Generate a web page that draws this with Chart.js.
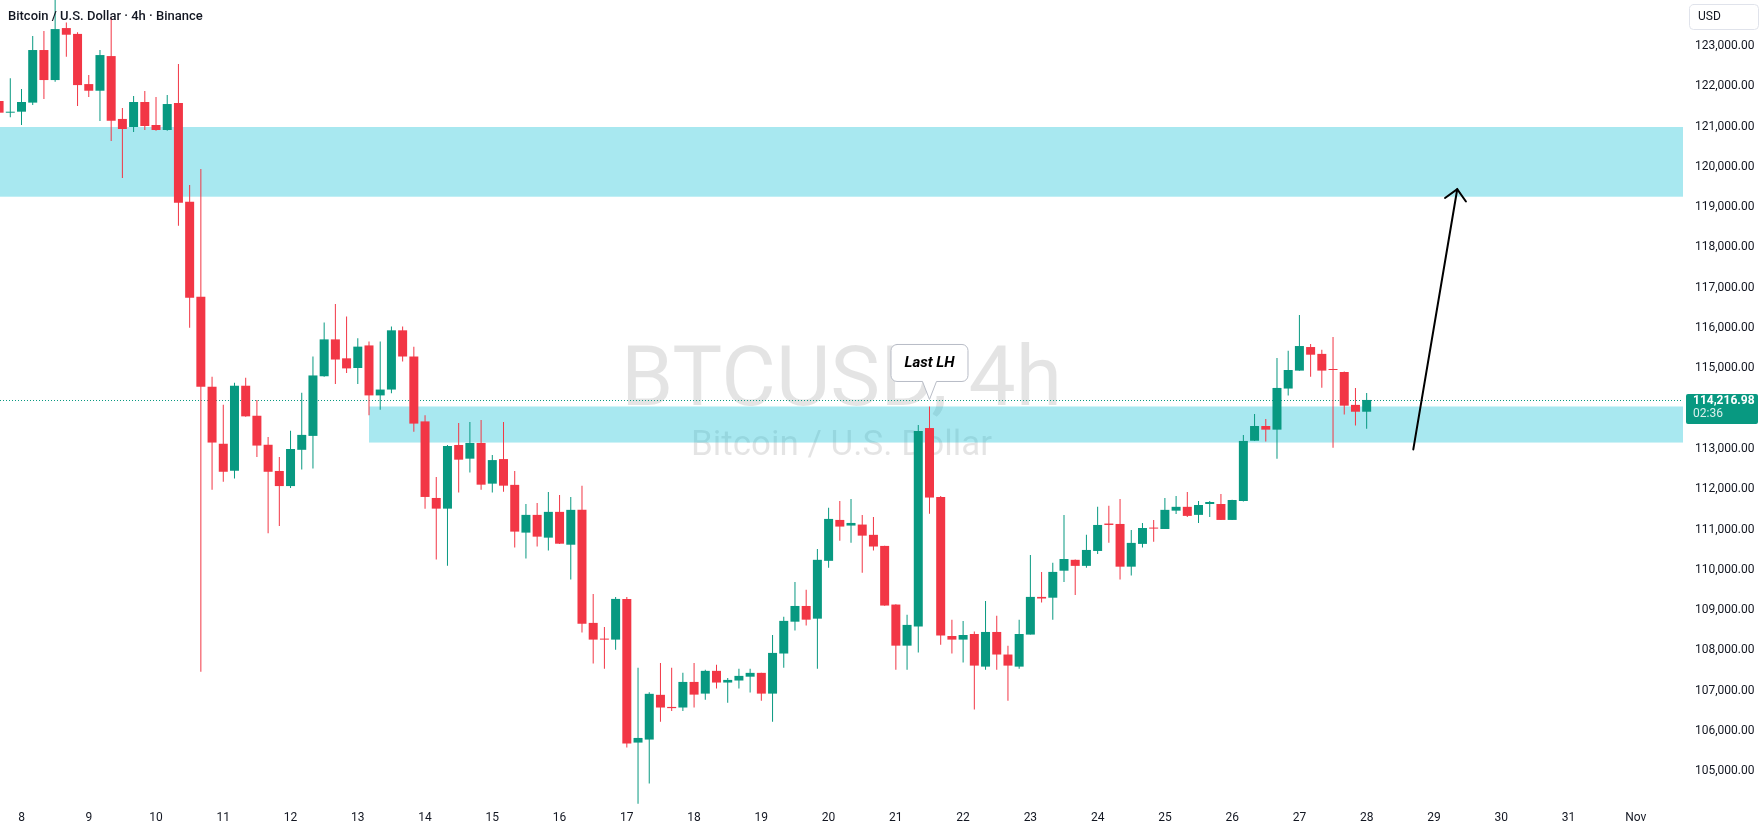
<!DOCTYPE html>
<html>
<head>
<meta charset="utf-8">
<script src="https://cdn.jsdelivr.net/npm/chart.js@4.4.1/dist/chart.umd.min.js"></script>
<style>
html,body{margin:0;padding:0;background:#ffffff;}
#wrap{width:1760px;height:833px;position:relative;}
</style>
</head>
<body>
<div id="wrap"><canvas id="c"></canvas></div>
<script>
// ---- DATA: BTCUSD 4h candles (first = 2 bars before the 8th, 00:00) ----
const firstBar = -2;
const opens = [
121635,121345,121370,121595,122900,122155,123445,123300,122055,121890,
122750,121190,120990,121610,121040,120915,121585,119135,116780,114545,
113130,112460,114570,113825,113105,112455,112080,112980,113325,114805,
115720,115250,115010,115570,114330,114475,115945,115295,113685,111785,
111520,113100,112760,113150,112140,112750,112110,110925,111365,110800,
111440,110625,111490,108685,108290,108270,109280,105715,105790,106900,
106600,106585,107220,106930,107495,107205,107255,107350,107445,106930,
107925,108715,109105,108790,110225,111240,111100,111125,110870,110595,
109140,108120,108595,113520,111810,108360,108270,108410,107600,108460,
107900,107600,108395,109330,109310,109980,110250,110100,110470,111150,
111140,110080,110645,111050,111015,111470,111565,111365,111635,111635,
111240,111710,113205,113570,113480,114500,114945,115530,115360,114980,
114910,114095,113925];
const highs = [
121700,122200,121930,123250,123370,124400,123580,123340,122280,122900,
123700,121460,121760,121885,121735,121785,122555,119550,119950,114795,
114100,114645,114770,114215,113300,112800,113450,114395,115295,116140,
116595,116290,115750,115670,115670,116040,116040,115540,113835,112305,
113100,113645,113670,113720,112850,113670,112455,111635,111660,111935,
111860,111810,112085,109405,108585,109330,109330,107575,106965,107690,
107570,107445,107690,107520,107645,107320,107545,107545,107450,108385,
108835,109700,109505,110520,111540,111710,111760,111365,111315,110600,
109150,108890,113595,114055,111835,108760,108735,108470,109230,108860,
108120,108760,110370,109950,110175,111365,110260,110870,111565,111590,
111760,110990,111165,111240,111785,111835,111935,111710,111710,111885,
111740,113350,113870,113745,115260,115435,116325,115605,115460,115780,
114920,114515,114390];
const lows = [
121300,121230,121040,121535,121685,122115,122735,121510,121735,121140,
120645,119725,120865,120915,120900,120900,118540,116010,107475,111990,
112185,112265,113800,112800,110910,111090,112035,112490,112515,114790,
114610,114885,114610,113835,113975,114385,115170,113425,111520,110255,
110105,111920,112415,111990,111920,111940,110555,110280,110580,110480,
110640,109760,108445,107675,107550,108020,105590,104200,104700,106235,
106500,106500,106585,106780,107055,106705,107055,106955,106755,106235,
107575,108495,108620,107550,110055,110725,110675,109930,110480,109110,
107525,107525,107950,111395,108145,107925,107700,106535,107525,107525,
106755,107550,108395,109190,108760,109700,109380,110055,110395,110675,
109760,109860,110555,110700,111015,111390,111315,111165,111315,111240,
111240,111700,113200,113185,112760,114325,114940,114790,114520,113030,
113855,113580,113505];
const closes = [
121345,121360,121610,122900,122155,123420,123280,122030,121890,122775,
121145,120940,121610,121015,120915,121560,119110,116755,114545,113160,
112435,114570,113810,113085,112435,112080,113000,113350,114825,115720,
115220,115000,115540,114330,114475,115945,115295,113630,111810,111520,
113075,112735,113150,112115,112725,112090,110950,111365,110825,111440,
110650,111490,108665,108270,108270,109280,105690,105830,106925,106585,
106570,107220,106905,107495,107205,107270,107370,107445,106930,107940,
108735,109105,108765,110250,111265,111075,111165,110850,110580,109115,
108120,108635,113445,111795,108370,108270,108385,107625,108460,107900,
107625,108410,109330,109290,109950,110270,110100,110495,111115,111115,
110080,110670,111040,111025,111490,111565,111340,111610,111685,111240,
111735,113200,113570,113480,114515,114960,115555,115340,114945,114960,
114075,113925,114216.98];

const dayLabels = ['8','9','10','11','12','13','14','15','16','17','18','19','20','21','22','23','24','25','26','27','28','29','30','31','Nov'];
const barsPerDay = 6;
const priceTicks = [123000,122000,121000,120000,119000,118000,117000,116000,115000,113000,112000,111000,110000,109000,108000,107000,106000,105000];

const zoneTops = [120990, 114055];
const zoneBottoms = [119260, 113160];
const zoneStarts = [null, 31];

const arrowFrom = [124.16, 112990];
const arrowTo = [128.08, 119445];
const calloutText = 'Last LH';
const calloutBar = 81;
const lastPrice = 114216.98;
const countdown = '02:36';
const chartTitle = 'Bitcoin / U.S. Dollar · 4h · Binance';
const watermarkMain = 'BTCUSD, 4h';
const watermarkSub = 'Bitcoin / U.S. Dollar';
const currency = 'USD';

const UP = '#089981', DOWN = '#F23645';

// ---- build datasets ----
const wickData = [], bodyData = [], colors = [];
for (let i = 0; i < opens.length; i++) {
  const k = firstBar + i;
  wickData.push({x: k, y: [lows[i], highs[i]]});
  bodyData.push({x: k, y: [opens[i], closes[i]]});
  colors.push(closes[i] >= opens[i] ? UP : DOWN);
}

const fmt = v => v.toLocaleString('en-US', {minimumFractionDigits: 2, maximumFractionDigits: 2});

function roundRect(ctx, x, y, w, h, r) {
  ctx.beginPath();
  ctx.moveTo(x + r, y);
  ctx.lineTo(x + w - r, y);
  ctx.arcTo(x + w, y, x + w, y + r, r);
  ctx.lineTo(x + w, y + h - r);
  ctx.arcTo(x + w, y + h, x + w - r, y + h, r);
  ctx.lineTo(x + r, y + h);
  ctx.arcTo(x, y + h, x, y + h - r, r);
  ctx.lineTo(x, y + r);
  ctx.arcTo(x, y, x + r, y, r);
  ctx.closePath();
}

const overlay = {
  id: 'overlay',
  beforeDatasetsDraw(chart) {
    const {ctx, chartArea: a, scales: {x, y}} = chart;
    ctx.save();
    ctx.beginPath(); ctx.rect(a.left, a.top, a.right - a.left, a.bottom - a.top); ctx.clip();
    // watermark
    const cx = (a.left + a.right) / 2, cy = (a.top + a.bottom) / 2;
    ctx.fillStyle = 'rgba(0,0,0,0.105)';
    ctx.textAlign = 'center'; ctx.textBaseline = 'alphabetic';
    ctx.font = '84px Roboto, "Liberation Sans", sans-serif';
    ctx.fillText(watermarkMain, cx, cy + 2);
    ctx.font = '35px Roboto, "Liberation Sans", sans-serif';
    ctx.fillText(watermarkSub, cx, cy + 52);
    // zones
    ctx.fillStyle = 'rgba(0,188,212,0.34)';
    for (let i = 0; i < zoneTops.length; i++) {
      const x0 = zoneStarts[i] === null ? a.left : x.getPixelForValue(zoneStarts[i]);
      const y0 = y.getPixelForValue(zoneTops[i]);
      const y1 = y.getPixelForValue(zoneBottoms[i]);
      ctx.fillRect(x0, y0, a.right - x0, y1 - y0);
    }
    // last price dotted line
    const py = Math.round(y.getPixelForValue(lastPrice)) + 0.5;
    ctx.strokeStyle = UP; ctx.lineWidth = 1; ctx.setLineDash([1, 2]);
    ctx.beginPath(); ctx.moveTo(a.left, py); ctx.lineTo(a.right, py); ctx.stroke();
    ctx.restore();
  },
  afterDatasetsDraw(chart) {
    const {ctx, chartArea: a, scales: {x, y}} = chart;
    ctx.save();
    // arrow
    const x0 = x.getPixelForValue(arrowFrom[0]), y0 = y.getPixelForValue(arrowFrom[1]);
    const x1 = x.getPixelForValue(arrowTo[0]), y1 = y.getPixelForValue(arrowTo[1]);
    ctx.strokeStyle = '#000000'; ctx.lineWidth = 2; ctx.lineCap = 'round';
    ctx.beginPath(); ctx.moveTo(x0, y0); ctx.lineTo(x1, y1); ctx.stroke();
    const ang = Math.atan2(y0 - y1, x0 - x1);
    const L = 15;
    ctx.beginPath();
    ctx.moveTo(x1 + L * Math.cos(ang - Math.PI / 4), y1 + L * Math.sin(ang - Math.PI / 4));
    ctx.lineTo(x1, y1);
    ctx.lineTo(x1 + L * Math.cos(ang + Math.PI / 4), y1 + L * Math.sin(ang + Math.PI / 4));
    ctx.stroke();
    // callout
    const ci = calloutBar - firstBar;
    const ax = x.getPixelForValue(calloutBar);
    const tipY = y.getPixelForValue(highs[ci]) - 7;
    const bw = 77, bh = 37, bx = ax - bw / 2, by = tipY - 18 - bh;
    ctx.lineWidth = 1; ctx.strokeStyle = '#b8bcc6'; ctx.fillStyle = '#ffffff';
    ctx.beginPath();
    const r = 6;
    ctx.moveTo(bx + r, by);
    ctx.lineTo(bx + bw - r, by);
    ctx.arcTo(bx + bw, by, bx + bw, by + r, r);
    ctx.lineTo(bx + bw, by + bh - r);
    ctx.arcTo(bx + bw, by + bh, bx + bw - r, by + bh, r);
    ctx.lineTo(ax + 7, by + bh);
    ctx.lineTo(ax, tipY);
    ctx.lineTo(ax - 7, by + bh);
    ctx.lineTo(bx + r, by + bh);
    ctx.arcTo(bx, by + bh, bx, by + bh - r, r);
    ctx.lineTo(bx, by + r);
    ctx.arcTo(bx, by, bx + r, by, r);
    ctx.closePath();
    ctx.fill(); ctx.stroke();
    ctx.fillStyle = '#000000';
    ctx.font = 'italic bold 15px Roboto, "Liberation Sans", sans-serif';
    ctx.textAlign = 'center'; ctx.textBaseline = 'middle';
    ctx.fillText(calloutText, ax, by + bh / 2);
    // title
    ctx.fillStyle = '#131722';
    ctx.font = '500 13px Roboto, "Liberation Sans", sans-serif';
    ctx.textAlign = 'left'; ctx.textBaseline = 'middle';
    ctx.fillText(chartTitle, 8, 17);
    // price tag
    const pyy = y.getPixelForValue(lastPrice);
    ctx.fillStyle = UP;
    roundRect(ctx, a.right + 3, pyy - 6, 72, 30, 2); ctx.fill();
    ctx.fillStyle = '#ffffff';
    ctx.font = 'bold 12px Roboto, "Liberation Sans", sans-serif';
    ctx.fillText(fmt(lastPrice), a.right + 10, pyy + 1);
    ctx.fillStyle = 'rgba(255,255,255,0.85)';
    ctx.font = '12px Roboto, "Liberation Sans", sans-serif';
    ctx.fillText(countdown, a.right + 10, pyy + 14);
    // currency box
    ctx.fillStyle = '#ffffff'; ctx.strokeStyle = '#e0e3eb';
    roundRect(ctx, a.right + 6.5, 4.5, 69, 25, 4); ctx.fill(); ctx.stroke();
    ctx.fillStyle = '#131722';
    ctx.font = '12px Roboto, "Liberation Sans", sans-serif';
    ctx.fillText(currency, a.right + 15, 17);
    ctx.restore();
  }
};

const tickFont = {family: 'Roboto, "Liberation Sans", sans-serif', size: 12};

new Chart(document.getElementById('c'), {
  type: 'bar',
  data: {
    datasets: [
      {label: 'wick', data: wickData, backgroundColor: colors, barThickness: 1, grouped: false, order: 2, inflateAmount: 0, borderWidth: 0},
      {label: 'body', data: bodyData, backgroundColor: colors, barThickness: 9, minBarLength: 1, grouped: false, order: 1, inflateAmount: 0, borderWidth: 0}
    ]
  },
  options: {
    responsive: true,
    maintainAspectRatio: false,
    animation: false,
    layout: {padding: 0, autoPadding: false},
    plugins: {legend: {display: false}, tooltip: {enabled: false}},
    scales: {
      x: {
        type: 'linear', offset: false, min: -1.918, max: 148.22,
        grid: {display: false, drawTicks: false}, border: {display: false},
        ticks: {
          autoSkip: false, maxRotation: 0, color: '#131722', font: tickFont, padding: 5,
          callback: (v) => { const i = Math.round(v / barsPerDay); return dayLabels[i] !== undefined ? dayLabels[i] : ''; }
        },
        afterBuildTicks: (s) => { s.ticks = dayLabels.map((_, i) => ({value: i * barsPerDay})); },
        afterFit: (s) => { s.height = 27; s.paddingLeft = 0; s.paddingRight = 0; }
      },
      y: {
        position: 'right', min: 104141.4, max: 124141.4,
        grid: {display: false, drawTicks: false}, border: {display: false},
        ticks: {autoSkip: false, color: '#131722', font: tickFont, padding: 12, callback: (v) => fmt(v)},
        afterBuildTicks: (s) => { s.ticks = priceTicks.map(v => ({value: v})); },
        afterFit: (s) => { s.width = 77; s.paddingTop = 0; s.paddingBottom = 0; }
      }
    }
  },
  plugins: [overlay]
});
</script>
</body>
</html>
